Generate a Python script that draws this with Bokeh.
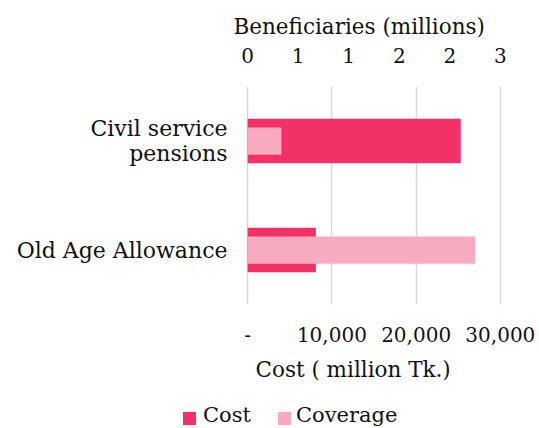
from bokeh.plotting import figure
from bokeh.layouts import column
from bokeh.models import (Range1d, FactorRange, LinearAxis, FixedTicker, NumeralTickFormatter,
                          ColumnDataSource, Title, Div)
from bokeh.embed import file_html
from bokeh.resources import INLINE

# ---- data ----
categories = ["Civil service\npensions", "Old Age Allowance"]
cost = [25300, 8100]          # million Tk.
coverage = [0.40, 2.70]       # beneficiaries, millions
cost_ticks = [0, 10000, 20000, 30000]
ben_ticks = [0, 0.6, 1.2, 1.8, 2.4, 3.0]
series = ["Cost", "Coverage"]

FONT = "DejaVu Serif"
TXT = "#111111"
COST_COLOR = "#F23266"
COV_COLOR = "#F8AAC0"
GRID = "#D9D9D9"

src = ColumnDataSource(dict(cat=categories, cost=cost, coverage=coverage))

PAD = 255  # small padding so edge gridlines are fully visible
p = figure(frame_width=257, frame_height=218,
           y_range=FactorRange(factors=categories[::-1]),
           x_range=Range1d(-PAD, 30000 + PAD),
           output_backend="svg", toolbar_location=None,
           min_border_left=245, min_border_right=37, min_border_top=86, min_border_bottom=94)
p.extra_x_ranges = {"ben": Range1d(-PAD / 10000, 3 + PAD / 10000)}
p.outline_line_color = None

p.hbar(y="cat", left=0, right="cost", height=0.406, source=src,
       fill_color=COST_COLOR, line_color=None)
p.hbar(y="cat", left=0, right="coverage", height=0.25, source=src,
       x_range_name="ben", fill_color=COV_COLOR, line_color=None)

# bottom (cost) axis
xa = p.xaxis[0]
xa.ticker = FixedTicker(ticks=cost_ticks)
xa.formatter = NumeralTickFormatter(format="0,0")
xa.major_label_overrides = {0: "-"}

# top (beneficiaries) axis
ba = LinearAxis(x_range_name="ben", ticker=FixedTicker(ticks=ben_ticks),
                formatter=NumeralTickFormatter(format="0"))
p.add_layout(ba, "above")

for ax in (xa, ba):
    ax.axis_line_color = None
    ax.major_tick_line_color = None
    ax.minor_tick_line_color = None
    ax.major_label_text_font = FONT
    ax.major_label_text_font_size = "20px"
    ax.major_label_text_color = TXT
xa.major_label_standoff = 16
ba.major_label_standoff = 18

ya = p.yaxis[0]
ya.axis_line_color = None
ya.major_tick_line_color = None
ya.minor_tick_line_color = None
ya.major_label_text_font = FONT
ya.major_label_text_font_size = "22px"
ya.major_label_text_color = TXT
ya.major_label_text_line_height = 1.0
ya.major_label_standoff = 12

# axis titles
t_top = Title(text="Beneficiaries (millions)", align="left", offset=-12, standoff=12,
              text_font=FONT, text_font_size="21.5px", text_font_style="normal",
              text_color=TXT)
p.add_layout(t_top, "above")
t_bot = Title(text="Cost ( million Tk.)", align="left", offset=10, standoff=20,
              text_font=FONT, text_font_size="21.5px", text_font_style="normal",
              text_color=TXT)
p.add_layout(t_bot, "below")

p.xgrid.ticker = FixedTicker(ticks=cost_ticks)
p.xgrid.grid_line_color = GRID
p.xgrid.grid_line_width = 1.5
p.ygrid.visible = False

# ---- legend strip below the chart ----
def swatch(color, right):
    return ('<span style="display:inline-block;width:13px;height:13px;'
            f'background:{color};margin-right:{right}px;vertical-align:-3px;"></span>')

legend_html = (
    f'<div style="font-family:\'{FONT}\';font-size:21px;line-height:25px;color:{TXT};'
    'padding:5px 0 0 183px;white-space:nowrap;">'
    + swatch(COST_COLOR, 7) + series[0]
    + '<span style="display:inline-block;width:27px;"></span>'
    + swatch(COV_COLOR, 5) + series[1]
    + '</div>'
)
leg = Div(text=legend_html, width=539, height=30, margin=(0, 0, 0, 0))

layout = column(p, leg, spacing=0)
open("out.html", "w").write(file_html(layout, INLINE))
